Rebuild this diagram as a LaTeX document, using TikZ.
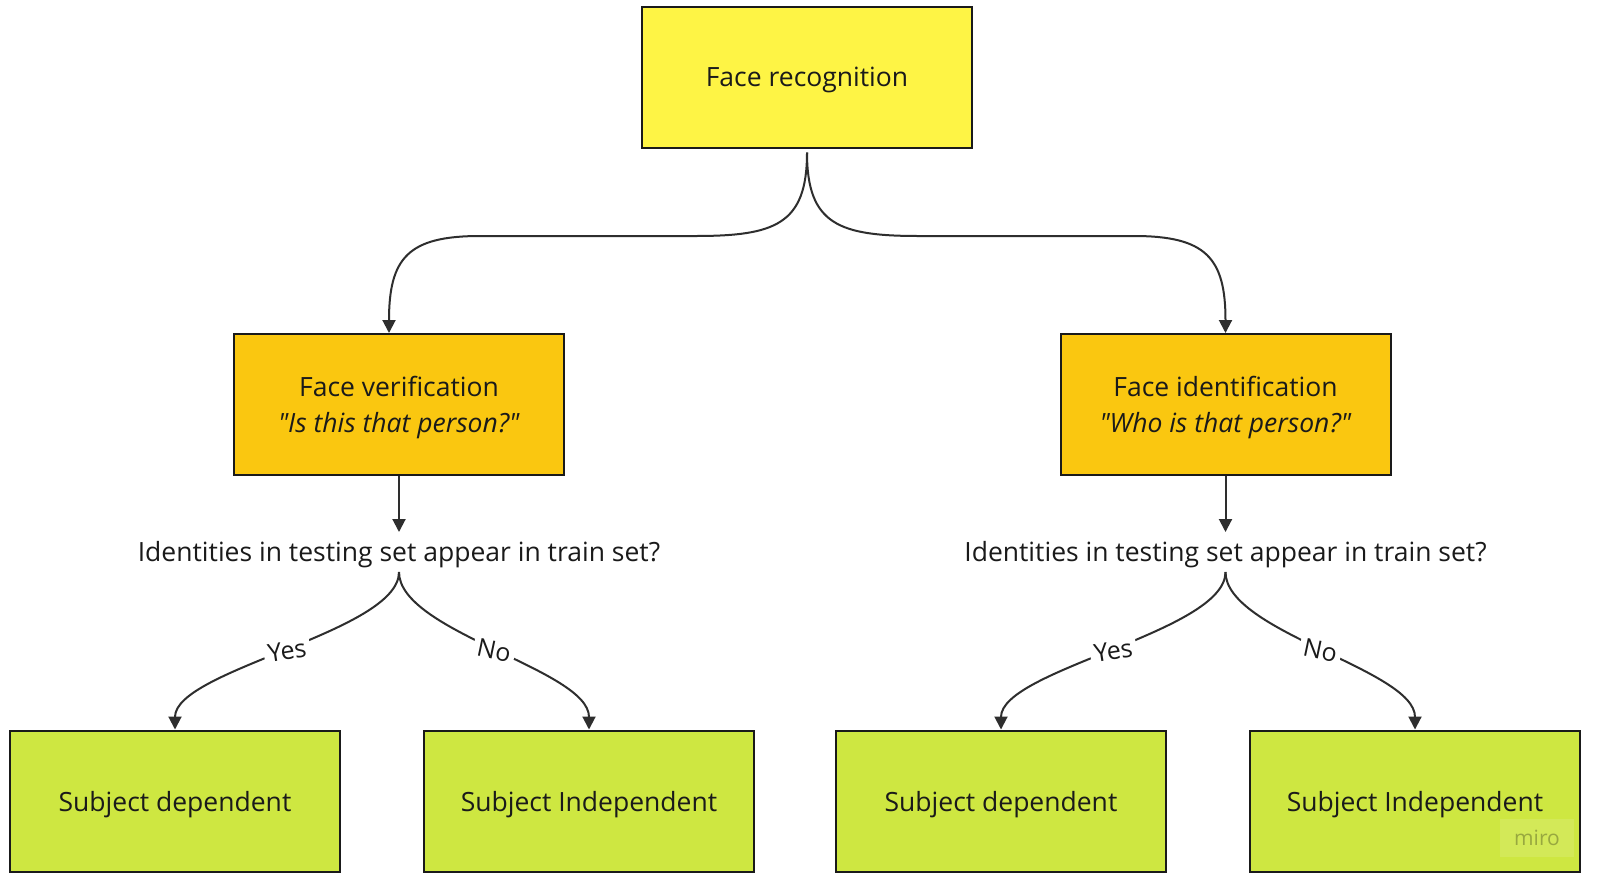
\documentclass[tikz,border=0pt]{standalone}
\usepackage{fontspec}
\setmainfont{Open Sans}[Ligatures=TeXOff]
\usetikzlibrary{arrows.meta}
\definecolor{ink}{HTML}{1A1A1A}
\definecolor{linec}{HTML}{2E2E2E}
\definecolor{yel}{HTML}{FEF445}
\definecolor{org}{HTML}{FAC710}
\definecolor{grn}{HTML}{CEE741}
\begin{document}
\begin{tikzpicture}[x=0.5pt,y=-0.5pt,
  box/.style={draw=ink, line width=1pt, minimum width=165pt, minimum height=70.5pt, inner sep=0pt, text=ink, font=\fontsize{13.25}{18}\selectfont, align=center},
  boxtext/.style={text=ink, inner sep=0pt, font=\fontsize{13.25}{18}\selectfont, align=center},
  conn/.style={draw=linec, line width=1pt, -{Triangle[length=6.5pt,width=6.5pt]}},
  qtext/.style={text=ink, font=\fontsize{13.25}{16}\selectfont, inner sep=0pt},
  lab/.style={fill=white, inner sep=2pt, text=ink, font=\fontsize{12.5}{15}\selectfont}]
\useasboundingbox (0,0) rectangle (1600,884);
\fill[white] (0,0) rectangle (1600,884);

\node[box, fill=yel] (top) at (807,77) {};
\node[box, fill=org] (ver) at (399,404.5) {};
\node[box, fill=org] (ide) at (1225.5,404.5) {};
\node[box, fill=grn] (b1) at (175,801) {};
\node[box, fill=grn] (b2) at (589,801) {};
\node[box, fill=grn] (b3) at (1001,801) {};
\node[box, fill=grn] (b4) at (1415,801) {};

\node[boxtext] (ttop) at (807,80) {Face recognition};
\node[boxtext] (tver) at (399,407.5) {Face verification\\\textit{"Is this that person?"}};
\node[boxtext] (tide) at (1225.5,407.5) {Face identification\\\textit{"Who is that person?"}};
\node[boxtext] (tb1) at (175,805) {Subject dependent};
\node[boxtext] (tb2) at (589,805) {Subject Independent};
\node[boxtext] (tb3) at (1001,805) {Subject dependent};
\node[boxtext] (tb4) at (1415,805) {Subject Independent};

\node[qtext] (q1) at (399,555) {Identities in testing set appear in train set?};
\node[qtext] (q2) at (1225.5,555) {Identities in testing set appear in train set?};
\coordinate (q1n) at (399,532);
\coordinate (q2n) at (1225.5,532);
\coordinate (q1s) at (399,572);
\coordinate (q2s) at (1225.5,572);

\coordinate (l1) at (695,236);
\coordinate (l2) at (480,236);
\coordinate (r1) at (919,236);
\coordinate (r2) at (1134,236);

\draw[conn] ([yshift=-2pt]top.south) .. controls +(0,72) and +(80,0) .. (l1) -- (l2) .. controls +(-72,0) and +(0,-75) .. ([xshift=-5pt]ver.north);
\draw[conn] ([yshift=-2pt]top.south) .. controls +(0,72) and +(-80,0) .. (r1) -- (r2) .. controls +(72,0) and +(0,-75) .. (ide.north);

\draw[conn] (ver.south) -- (q1n);
\draw[conn] (ide.south) -- (q2n);

\draw[conn] (q1s) .. controls +(0,60) and +(0,-60) .. node[lab, pos=0.5, rotate=9] {Yes} (b1.north);
\draw[conn] (q1s) .. controls +(0,60) and +(0,-60) .. node[lab, pos=0.5, rotate=-12] {No} (b2.north);
\draw[conn] (q2s) .. controls +(0,60) and +(0,-60) .. node[lab, pos=0.5, rotate=9] {Yes} (b3.north);
\draw[conn] (q2s) .. controls +(0,60) and +(0,-60) .. node[lab, pos=0.5, rotate=-12] {No} (b4.north);

\node[fill=white, fill opacity=0.12, text opacity=0.28, text=black, minimum width=37pt, minimum height=19pt, inner sep=0pt, font=\fontsize{10.5}{12}\selectfont] (miro) at (1537,838) {miro};
\end{tikzpicture}
\end{document}
